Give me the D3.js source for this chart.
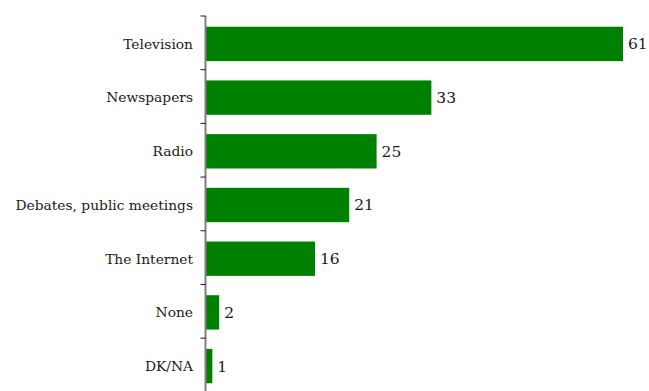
<!DOCTYPE html>
<html>
<head>
<meta charset="utf-8">
<script src="https://cdn.jsdelivr.net/npm/d3@7"></script>
<style>
  html, body { margin: 0; padding: 0; background: #fff; }
  svg { display: block; }
  .cat text { font-family: "DejaVu Serif", serif; font-size: 13.8px; fill: #1a1a1a; }
  .val { font-family: "DejaVu Serif", serif; font-size: 15.5px; fill: #1a1a1a; }
</style>
</head>
<body>
<svg id="chart" width="649" height="391"></svg>
<script>
// Sources of information, percent of respondents
const categories = ["Television", "Newspapers", "Radio", "Debates, public meetings", "The Internet", "None", "DK/NA"];
const values = [61, 33, 25, 21, 16, 2, 1];

const svg = d3.select("#chart");
const axisX = 205.5;

const x = d3.scaleLinear().domain([0, 61]).range([axisX, 623]);
const y = d3.scaleBand().domain(categories).range([16, 394]).paddingInner(0.36).paddingOuter(0.2);

// bars
svg.append("g").selectAll("rect")
  .data(values)
  .join("rect")
  .attr("x", axisX)
  .attr("y", (d, i) => y(categories[i]))
  .attr("width", d => x(d) - axisX)
  .attr("height", y.bandwidth())
  .attr("fill", "#008000");

// value labels
svg.append("g").selectAll("text")
  .data(values)
  .join("text")
  .attr("class", "val")
  .attr("x", d => x(d) + 5)
  .attr("y", (d, i) => y(categories[i]) + y.bandwidth() / 2)
  .attr("dy", "0.35em")
  .text(d => d);

// category axis with boundary ticks
const step = y.step();
const boundaries = d3.range(categories.length + 1).map(i => 16 + i * step);
const axisG = svg.append("g").attr("class", "cat");
axisG.append("line")
  .attr("x1", axisX).attr("x2", axisX)
  .attr("y1", 16).attr("y2", 394)
  .attr("stroke", "#808080").attr("stroke-width", 2);
axisG.selectAll("line.tick")
  .data(boundaries)
  .join("line")
  .attr("class", "tick")
  .attr("x1", axisX - 5).attr("x2", axisX)
  .attr("y1", d => d).attr("y2", d => d)
  .attr("stroke", "#1a1a1a").attr("stroke-width", 1);
axisG.selectAll("text")
  .data(categories)
  .join("text")
  .attr("x", 193)
  .attr("y", d => y(d) + y.bandwidth() / 2)
  .attr("dy", "0.35em")
  .attr("text-anchor", "end")
  .text(d => d);
</script>
</body>
</html>
